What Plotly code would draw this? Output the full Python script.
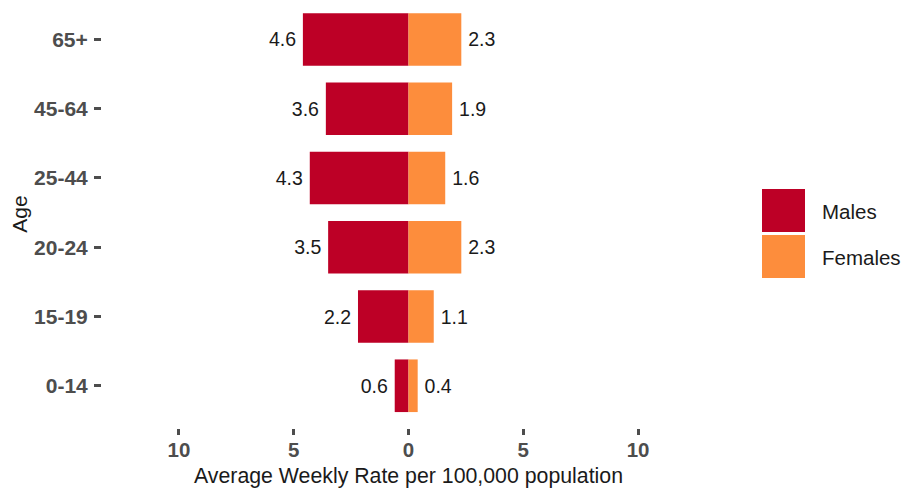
import plotly.graph_objects as go

ages = ["0-14", "15-19", "20-24", "25-44", "45-64", "65+"]
males = [0.6, 2.2, 3.5, 4.3, 3.6, 4.6]
females = [0.4, 1.1, 2.3, 1.6, 1.9, 2.3]
tick_vals = [-10, -5, 0, 5, 10]
tick_text = ["10", "5", "0", "5", "10"]

MALE_COL = "#BD0026"
FEMALE_COL = "#FD8D3C"
GRAY = "#4D4D4D"
FONT = "Liberation Sans, Arial, sans-serif"

W, H = 906, 488
ML, MR, MT, MB = 102, 191, 0, 60

fig = go.Figure()
fig.add_trace(go.Bar(
    y=ages, x=[-v for v in males], orientation="h", name="Males",
    marker=dict(color=MALE_COL, line=dict(width=0)), width=0.76,
    text=[f"{v:.1f}\u2009" for v in males], textposition="outside",
    textfont=dict(size=19.5, color="#1A1A1A", family=FONT), cliponaxis=False,
    showlegend=False, hoverinfo="skip",
))
fig.add_trace(go.Bar(
    y=ages, x=females, orientation="h", name="Females",
    marker=dict(color=FEMALE_COL, line=dict(width=0)), width=0.76,
    text=[f"\u2009{v:.1f}" for v in females], textposition="outside",
    textfont=dict(size=19.5, color="#1A1A1A", family=FONT), cliponaxis=False,
    showlegend=False, hoverinfo="skip",
))

# legend drawn manually (large keys like ggplot)
legend_items = [("Males", MALE_COL), ("Females", FEMALE_COL)]
pw = W - ML - MR
ph = H - MT - MB
shapes = []
annotations = []
key_x0, key_x1 = 762, 805
key_tops = [189, 235]
for (lab, col), top in zip(legend_items, key_tops):
    shapes.append(dict(type="rect", xref="paper", yref="paper",
                       x0=(key_x0 - ML) / pw, x1=(key_x1 - ML) / pw,
                       y0=(ph + MT - (top + 43)) / ph, y1=(ph + MT - top) / ph,
                       fillcolor=col, line=dict(width=0)))
    annotations.append(dict(text=lab, xref="paper", yref="paper",
                            x=(820 - ML) / pw, y=(ph + MT - (top + 22)) / ph,
                            xanchor="left", yanchor="middle", showarrow=False,
                            font=dict(size=20.5, color="#1A1A1A", family=FONT)))

# x-axis title as annotation for precise placement
annotations.append(dict(text="Average Weekly Rate per 100,000 population",
                        xref="x", yref="paper", x=0, y=(ph + MT - 476) / ph,
                        xanchor="center", yanchor="middle", showarrow=False,
                        font=dict(size=21.3, color="#1A1A1A", family=FONT)))

fig.update_layout(
    width=W, height=H,
    margin=dict(l=ML, r=MR, t=MT, b=MB),
    barmode="overlay",
    plot_bgcolor="white", paper_bgcolor="white",
    font=dict(family=FONT),
    shapes=shapes, annotations=annotations,
    showlegend=False,
)
fig.update_xaxes(
    range=[-13.35, 13.35], tickvals=tick_vals, ticktext=tick_text,
    showgrid=False, zeroline=False, showline=False,
    ticks="outside", ticklen=6, tickwidth=2.5, tickcolor=GRAY,
    ticklabelstandoff=-3,
    tickfont=dict(size=20.5, color=GRAY, family=FONT, weight="bold"),
)
fig.update_yaxes(
    range=[-0.61, 5.57], categoryorder="array", categoryarray=ages,
    showgrid=False, zeroline=False, showline=False,
    ticks="outside", ticklen=7, tickwidth=2.5, tickcolor=GRAY,
    ticklabelstandoff=2,
    tickfont=dict(size=21, color=GRAY, family=FONT, weight="bold"),
    title=dict(text="Age", standoff=0, font=dict(size=21, color="#1A1A1A", family=FONT)),
)

fig.write_html("out.html", config={"displayModeBar": False},
               post_script="document.body.style.margin='0';")
